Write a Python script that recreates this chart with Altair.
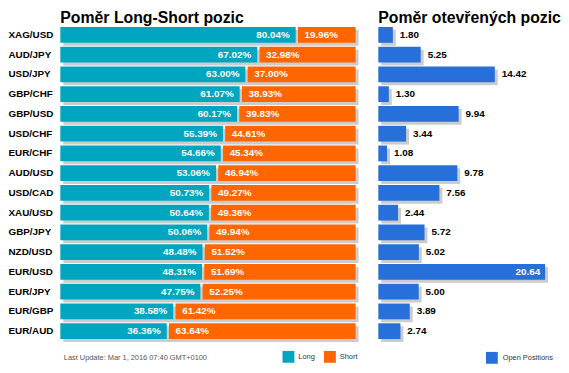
import altair as alt
import pandas as pd

pairs = ["XAG/USD", "AUD/JPY", "USD/JPY", "GBP/CHF", "GBP/USD", "USD/CHF", "EUR/CHF", "AUD/USD",
         "USD/CAD", "XAU/USD", "GBP/JPY", "NZD/USD", "EUR/USD", "EUR/JPY", "EUR/GBP", "EUR/AUD"]
long_pct = [80.04, 67.02, 63.00, 61.07, 60.17, 55.39, 54.66, 53.06,
            50.73, 50.64, 50.06, 48.48, 48.31, 47.75, 38.58, 36.36]
short_pct = [19.96, 32.98, 37.00, 38.93, 39.83, 44.61, 45.34, 46.94,
             49.27, 49.36, 49.94, 51.52, 51.69, 52.25, 61.42, 63.64]
open_pos = [1.80, 5.25, 14.42, 1.30, 9.94, 3.44, 1.08, 9.78,
            7.56, 2.44, 5.72, 5.02, 20.64, 5.00, 3.89, 2.74]

TEAL = "#00A6BF"
ORANGE = "#FF6600"
BLUE = "#2770D9"
SHADOW = "#CCCCCC"
FONT = "Liberation Sans"

df = pd.DataFrame({"pair": pairs, "long": long_pct, "short": short_pct, "open": open_pos})

yscale = alt.Scale(paddingInner=0.2, paddingOuter=0.1)
y_left = alt.Y("pair:N", sort=pairs, scale=yscale,
               axis=alt.Axis(title=None, labelAlign="left", labelPadding=53, ticks=False, tickSize=0,
                             domain=False, grid=False, labelFontSize=10, labelFontWeight="bold",
                             labelColor="#000000", labelFont=FONT, labelBaseline="middle"))
y_right = alt.Y("pair:N", sort=pairs, scale=yscale, axis=None)

x_axis = alt.Axis(labels=False, ticks=False, domain=False, grid=False,
                  title="Last Update: Mar 1, 2016 07:40 GMT+0100", titleFontSize=7.5,
                  titleFontWeight="normal", titleColor="#555555", titleFont=FONT,
                  titleAnchor="start", titleAlign="left", titleX=3, titleY=19,
                  titleBaseline="alphabetic")
xs_left = alt.Scale(domain=[0, 100], nice=False, zero=True)

lbase = alt.Chart(df).transform_calculate(
    zero="0",
    total="datum.long + datum.short",
    long_lbl="format(datum.long, '.2f') + '%'",
    short_lbl="format(datum.short, '.2f') + '%'",
)

shadow_l = lbase.mark_bar(color=SHADOW, xOffset=3, x2Offset=3, yOffset=3, y2Offset=3).encode(
    x=alt.X("zero:Q", scale=xs_left, axis=x_axis), x2="total:Q", y=y_left)

side_scale = alt.Scale(domain=["Long", "Short"], range=[TEAL, ORANGE])
side_legend = alt.Legend(title=None, orient="none", legendX=225, legendY=330, direction="horizontal",
                         symbolType="square", symbolSize=144, symbolStrokeWidth=0, symbolOpacity=1,
                         labelFontSize=7.5, labelFont=FONT, labelColor="#333333", labelOffset=4,
                         columnPadding=9, padding=0)

long_bar = lbase.transform_calculate(side="'Long'").mark_bar(x2Offset=-1).encode(
    x=alt.X("zero:Q", scale=xs_left, axis=x_axis), x2="long:Q", y=y_left,
    color=alt.Color("side:N", scale=side_scale, legend=side_legend))
short_bar = lbase.transform_calculate(side="'Short'").mark_bar(xOffset=1.3).encode(
    x=alt.X("long:Q", scale=xs_left, axis=x_axis), x2="total:Q", y=y_left,
    color=alt.Color("side:N", scale=side_scale, legend=side_legend))

long_txt = lbase.mark_text(align="right", baseline="middle", dx=-7, color="white", fontWeight="bold",
                           fontSize=10, font=FONT).encode(
    x=alt.X("long:Q", scale=xs_left, axis=x_axis), y=y_left, text="long_lbl:N")
short_txt = lbase.mark_text(align="left", baseline="middle", dx=8, color="white", fontWeight="bold",
                            fontSize=10, font=FONT).encode(
    x=alt.X("long:Q", scale=xs_left, axis=x_axis), y=y_left, text="short_lbl:N")

left = alt.layer(shadow_l, long_bar, short_bar, long_txt, short_txt).properties(
    width=299, height=320,
    title=alt.TitleParams("Poměr Long-Short pozic", anchor="start", frame="group", fontSize=16,
                          font=FONT, fontWeight="bold", color="#000000", offset=-1))

xs_right = alt.Scale(domain=[0, 22], nice=False, zero=True)
rbase = alt.Chart(df).transform_calculate(zero="0", series="'Open Positions'")

shadow_r = rbase.mark_bar(color=SHADOW, xOffset=3, x2Offset=3, yOffset=3, y2Offset=3).encode(
    x=alt.X("zero:Q", scale=xs_right, axis=None), x2="open:Q", y=y_right)
open_bar = rbase.mark_bar().encode(
    x=alt.X("zero:Q", scale=xs_right, axis=None), x2="open:Q", y=y_right,
    color=alt.Color("series:N", scale=alt.Scale(domain=["Open Positions"], range=[BLUE]),
                    legend=alt.Legend(title=None, orient="none", legendX=109, legendY=331,
                                      symbolType="square", symbolSize=144, symbolStrokeWidth=0,
                                      symbolOpacity=1, labelFontSize=7.5, labelFont=FONT,
                                      labelColor="#333333", labelOffset=5, padding=0)))
open_txt_out = rbase.transform_filter("datum.open < 18").mark_text(
    align="left", baseline="middle", dx=7, color="#000000", fontWeight="bold", fontSize=10, font=FONT
).encode(x=alt.X("open:Q", scale=xs_right, axis=None), y=y_right,
         text=alt.Text("open:Q", format=".2f"))
open_txt_in = rbase.transform_filter("datum.open >= 18").mark_text(
    align="right", baseline="middle", dx=-5, color="white", fontWeight="bold", fontSize=10, font=FONT
).encode(x=alt.X("open:Q", scale=xs_right, axis=None), y=y_right,
         text=alt.Text("open:Q", format=".2f"))

right = alt.layer(shadow_r, open_bar, open_txt_out, open_txt_in).properties(
    width=180, height=320,
    title=alt.TitleParams("Poměr otevřených pozic", anchor="start", frame="group", fontSize=16,
                          font=FONT, fontWeight="bold", color="#000000", offset=-1))

chart = alt.hconcat(left, right, spacing=23, bounds="flush").resolve_scale(
    color="independent", y="independent").configure_view(stroke=None).properties(
    padding={"left": 0, "top": 0, "right": 0, "bottom": 0})

chart.save("out.html", embed_options={"renderer": "svg", "actions": False})
